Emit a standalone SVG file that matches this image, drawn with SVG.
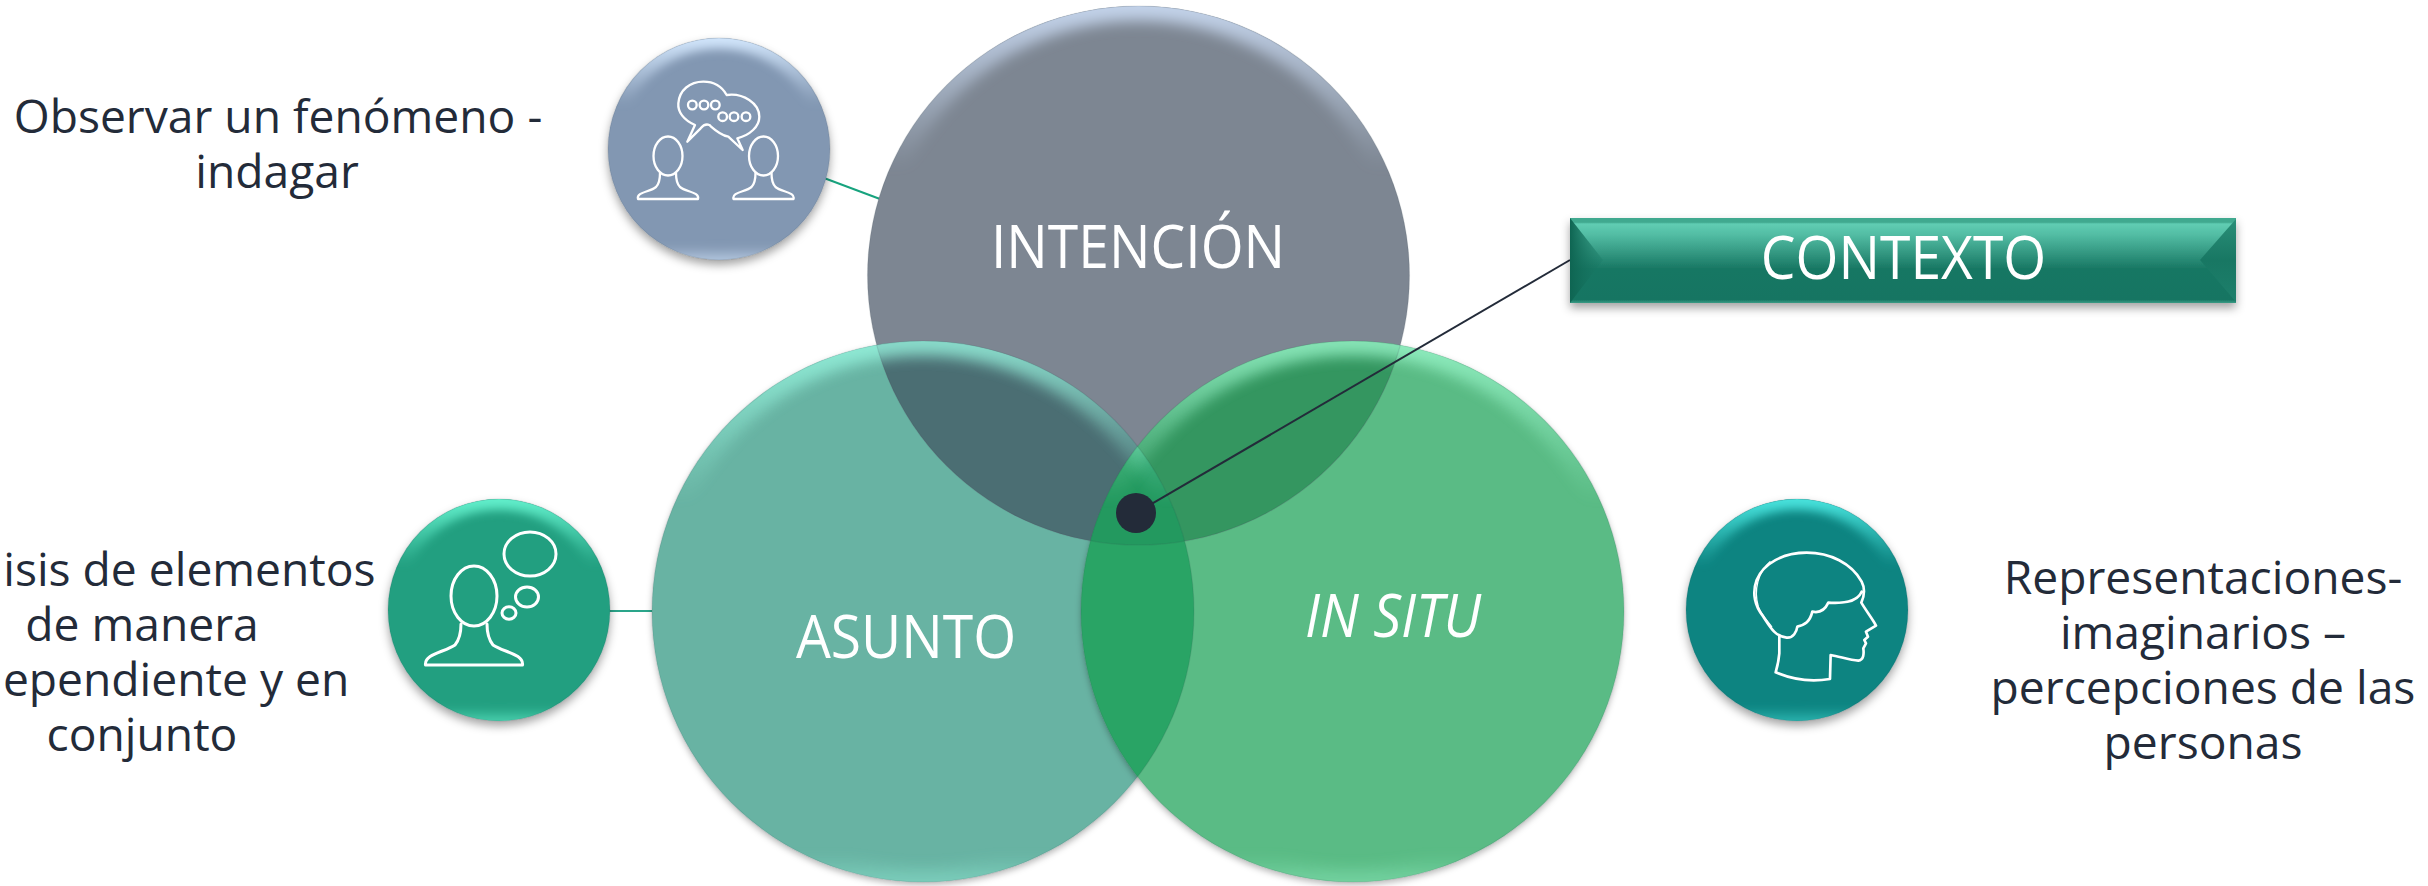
<svg xmlns="http://www.w3.org/2000/svg" width="2428" height="886" viewBox="0 0 2428 886">
<style>
text{font-family:"Open Sans","Noto Sans","Liberation Sans",sans-serif}
.dark{fill:#232b39;font-size:46.200px;text-anchor:middle}
.lbl{fill:#fff;font-size:60px;font-weight:400;text-anchor:middle}
.ic{fill:none;stroke:#fff;stroke-linejoin:round;stroke-linecap:round}
.rim{fill:none;stroke-width:30;filter:url(#soft)}
.rims{fill:none;stroke-width:22;filter:url(#softs)}
.edge{fill:none;stroke:#39424e;stroke-opacity:.13;stroke-width:1.200}
</style>
<defs>
<filter id="shadow" x="-20%" y="-20%" width="140%" height="140%"><feDropShadow dx="0" dy="5" stdDeviation="5" flood-color="#000" flood-opacity=".36"/></filter>
<filter id="shadowb" x="-5%" y="-5%" width="110%" height="110%"><feDropShadow dx="0" dy="3" stdDeviation="3" flood-color="#000" flood-opacity=".28"/></filter>
<filter id="soft" x="-10%" y="-10%" width="120%" height="120%"><feGaussianBlur stdDeviation="7"/></filter>
<filter id="softs" x="-10%" y="-10%" width="120%" height="120%"><feGaussianBlur stdDeviation="5"/></filter>
<clipPath id="cI"><ellipse cx="1138.500" cy="275.500" rx="271" ry="269.500"/></clipPath>
<clipPath id="cA"><ellipse cx="923" cy="611.500" rx="271" ry="270.500"/></clipPath>
<clipPath id="cS"><ellipse cx="1352.500" cy="611.500" rx="271.500" ry="270.500"/></clipPath>
<clipPath id="cAS" clip-path="url(#cA)"><ellipse cx="1352.500" cy="611.500" rx="271.500" ry="270.500"/></clipPath>
<clipPath id="cc1"><circle cx="719" cy="149" r="111"/></clipPath>
<clipPath id="cc2"><circle cx="499" cy="610" r="111"/></clipPath>
<clipPath id="cc3"><circle cx="1797" cy="610" r="111"/></clipPath>
<linearGradient id="rI" x1="0" y1="0" x2="0" y2="1"><stop offset="0" stop-color="#c3d3ea"/><stop offset=".3" stop-color="#c3d3ea" stop-opacity="0"/><stop offset="1" stop-color="#c3d3ea" stop-opacity="0"/></linearGradient>
<linearGradient id="rA" x1="0" y1="0" x2="0" y2="1"><stop offset="0" stop-color="#9af8e2"/><stop offset=".3" stop-color="#9af8e2" stop-opacity="0"/><stop offset=".95" stop-color="#9af8e2" stop-opacity="0"/><stop offset="1" stop-color="#9af8e2" stop-opacity=".5"/></linearGradient>
<linearGradient id="rS" x1="0" y1="0" x2="0" y2="1"><stop offset="0" stop-color="#9cf8cc"/><stop offset=".3" stop-color="#9cf8cc" stop-opacity="0"/><stop offset=".95" stop-color="#9cf8cc" stop-opacity="0"/><stop offset="1" stop-color="#9cf8cc" stop-opacity=".5"/></linearGradient>
<linearGradient id="r1" x1="0" y1="0" x2="0" y2="1"><stop offset="0" stop-color="#d2e6fc"/><stop offset=".3" stop-color="#d2e6fc" stop-opacity="0"/><stop offset=".94" stop-color="#d2e6fc" stop-opacity="0"/><stop offset="1" stop-color="#d2e6fc" stop-opacity=".6"/></linearGradient>
<linearGradient id="r2" x1="0" y1="0" x2="0" y2="1"><stop offset="0" stop-color="#62f0cc"/><stop offset=".3" stop-color="#62f0cc" stop-opacity="0"/><stop offset=".94" stop-color="#62f0cc" stop-opacity="0"/><stop offset="1" stop-color="#62f0cc" stop-opacity=".6"/></linearGradient>
<linearGradient id="r3" x1="0" y1="0" x2="0" y2="1"><stop offset="0" stop-color="#48e4de"/><stop offset=".3" stop-color="#48e4de" stop-opacity="0"/><stop offset=".94" stop-color="#48e4de" stop-opacity="0"/><stop offset="1" stop-color="#48e4de" stop-opacity=".5"/></linearGradient>
<linearGradient id="gr" x1="0" y1="0" x2="0" y2="1"><stop offset="0" stop-color="#3fa98f"/><stop offset=".05" stop-color="#3fa98f"/><stop offset=".07" stop-color="#60cdb3"/><stop offset=".2" stop-color="#52bca3"/><stop offset=".6" stop-color="#187763"/><stop offset=".96" stop-color="#167562"/><stop offset="1" stop-color="#3a9c86"/></linearGradient>
<linearGradient id="bl" x1="0" y1="0" x2="1" y2="0"><stop offset="0" stop-color="#0e6552"/><stop offset="1" stop-color="#1a7a66" stop-opacity=".3"/></linearGradient>
<linearGradient id="br" x1="0" y1="0" x2="0" y2="1"><stop offset="0" stop-color="#2a8f78"/><stop offset=".5" stop-color="#187763"/><stop offset="1" stop-color="#1d7f6b"/></linearGradient>
<path id="person" d="M-8,17C-8,24-9,28-12,31C-18,36-32,36-30,43H30C32,36 18,36 12,31C9,28 8,24 8,17"/>
</defs>
<rect width="2428" height="886" fill="#fff"/>
<g id="connectors" fill="none">
<line x1="824" y1="178" x2="880" y2="199" stroke="#17a37e" stroke-width="2"/>
<line x1="608" y1="611" x2="654" y2="611" stroke="#2aa58a" stroke-width="2"/>
<line x1="1620" y1="611" x2="1687" y2="611" stroke="#fff" stroke-width="2"/>
</g>
<g id="node-asunto"><ellipse cx="923" cy="611.500" rx="271" ry="270.500" fill="#67b3a3" filter="url(#shadowb)"/></g>
<g id="node-insitu"><ellipse cx="1352.500" cy="611.500" rx="271.500" ry="270.500" fill="#5abb85" filter="url(#shadowb)"/></g>
<g id="node-intencion"><ellipse cx="1138.500" cy="275.500" rx="271" ry="269.500" fill="#7d8692"/></g>
<g id="overlaps">
<ellipse cx="1138.500" cy="275.500" rx="271" ry="269.500" fill="#4b6e73" clip-path="url(#cA)"/>
<ellipse cx="1138.500" cy="275.500" rx="271" ry="269.500" fill="#349660" clip-path="url(#cS)"/>
<ellipse cx="923" cy="611.500" rx="271" ry="270.500" fill="#29a465" clip-path="url(#cS)"/>
<ellipse cx="1138.500" cy="275.500" rx="271" ry="269.500" fill="#23995f" clip-path="url(#cAS)"/>
</g>
<g id="bevels">
<g clip-path="url(#cI)"><ellipse cx="1138.500" cy="275.500" rx="271" ry="269.500" class="rim" stroke="url(#rI)"/></g>
<g clip-path="url(#cA)"><ellipse cx="923" cy="611.500" rx="271" ry="270.500" class="rim" stroke="url(#rA)" opacity=".8"/></g>
<g clip-path="url(#cS)"><ellipse cx="1352.500" cy="611.500" rx="271.500" ry="270.500" class="rim" stroke="url(#rS)" opacity=".8"/></g>
<ellipse cx="1138.500" cy="275.500" rx="271" ry="269.500" class="edge"/>
<ellipse cx="923" cy="611.500" rx="271" ry="270.500" class="edge"/>
<ellipse cx="1352.500" cy="611.500" rx="271.500" ry="270.500" class="edge"/>
</g>
<g id="node-center"><line x1="1136" y1="513" x2="1570" y2="260" stroke="#232b39" stroke-width="2"/><circle cx="1136" cy="513" r="20" fill="#232b39"/></g>
<text class="lbl" transform="translate(1138,268) scale(.92,1)">INTENCIÓN</text>
<text class="lbl" transform="translate(906,658) scale(.92,1)">ASUNTO</text>
<text class="lbl" transform="translate(1393,637) scale(.92,1)" font-style="italic">IN SITU</text>
<g id="node-contexto">
<rect x="1570" y="218" width="666" height="85" fill="url(#gr)" filter="url(#shadow)"/>
<path d="M1570,218L1603,260L1570,303Z" fill="url(#bl)"/>
<path d="M2236,219L2200,260L2236,302Z" fill="url(#br)"/>
<text class="lbl" transform="translate(1903.500,279) scale(.92,1)">CONTEXTO</text>
</g>
<g id="node-observar">
<circle cx="719" cy="149" r="111" fill="#8297b2" filter="url(#shadow)"/>
<g clip-path="url(#cc1)"><circle cx="719" cy="149" r="111" class="rims" stroke="url(#r1)"/></g>
<circle cx="719" cy="149" r="111" class="edge"/>
<g class="ic" transform="translate(580,0) scale(.3333)" stroke-width="7">
<path d="M322,425L345,375C310,360 293,335 295,310C298,270 330,245 370,245C400,245 425,258 440,285C490,278 538,310 538,350C538,380 510,405 472,415L488,450L445,410C420,405 405,390 388,375C380,372 370,375 362,385Z"/>
<circle cx="337" cy="315" r="13"/><circle cx="372" cy="315" r="13"/><circle cx="406" cy="315" r="13"/><circle cx="428" cy="350" r="13"/><circle cx="462" cy="350" r="13"/><circle cx="498" cy="350" r="13"/>
</g>
<g class="ic" stroke-width="2.300">
<ellipse cx="668" cy="156" rx="14.500" ry="19.500"/><use href="#person" x="668" y="156"/>
<ellipse cx="763.500" cy="156" rx="14.500" ry="19.500"/><use href="#person" x="763.500" y="156"/>
</g>
<text class="dark" x="278" y="133">Observar un fenómeno -</text>
<text class="dark" x="277" y="188">indagar</text>
</g>
<g id="node-analisis">
<circle cx="499" cy="610" r="111" fill="#229f80" filter="url(#shadow)"/>
<g clip-path="url(#cc2)"><circle cx="499" cy="610" r="111" class="rims" stroke="url(#r2)"/></g>
<circle cx="499" cy="610" r="111" class="edge"/>
<g class="ic" stroke-width="3">
<ellipse cx="474" cy="596" rx="23" ry="30"/>
<path d="M461,624C461,634 459,640 455,645C445,652 424,654 425.500,665H522.500C524,654 503,652 493,645C489,640 487,634 487,624"/>
<ellipse cx="530" cy="554" rx="26" ry="22"/><ellipse cx="527" cy="597" rx="11.500" ry="10"/><ellipse cx="509" cy="613" rx="7" ry="6.300"/>
</g>
<text class="dark" x="142" y="586">Análisis de elementos</text>
<text class="dark" x="142" y="641">de manera</text>
<text class="dark" x="142" y="696">independiente y en</text>
<text class="dark" x="142" y="751">conjunto</text>
</g>
<g id="node-representaciones">
<circle cx="1797" cy="610" r="111" fill="#0a8481" filter="url(#shadow)"/>
<g clip-path="url(#cc3)"><circle cx="1797" cy="610" r="111" class="rims" stroke="url(#r3)"/></g>
<circle cx="1797" cy="610" r="111" class="edge"/>
<g class="ic" transform="translate(1660,480) scale(.3333)" stroke-width="8">
<path d="M358,465L358,520C356,545 352,560 347,577C400,600 460,605 510,597L512,525C540,530 570,540 595,542C612,540 612,520 610,505L618,490L613,480L624,470L618,455L648,437C640,420 620,395 604,368C612,350 618,330 605,305C575,250 510,218 440,218C370,218 310,250 290,300C275,340 285,380 310,410C330,440 345,470 380,473C400,475 410,455 412,440C435,435 450,425 457,395C480,400 495,390 505,368C540,370 590,370 605,335"/>
<path d="M330,245C295,275 280,330 295,380C305,405 320,420 335,440" stroke-width="4"/>
</g>
<text class="dark" x="2203" y="594">Representaciones-</text>
<text class="dark" x="2203" y="649">imaginarios –</text>
<text class="dark" x="2203" y="704">percepciones de las</text>
<text class="dark" x="2203" y="759">personas</text>
</g>
</svg>
